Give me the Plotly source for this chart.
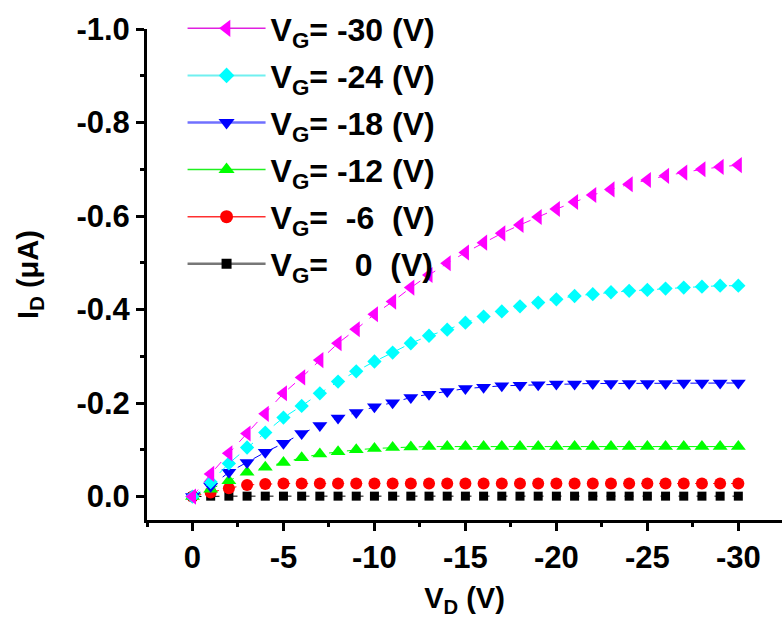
import plotly.graph_objects as go

VD = [0, -1, -2, -3, -4, -5, -6, -7, -8, -9, -10, -11, -12, -13, -14, -15,
      -16, -17, -18, -19, -20, -21, -22, -23, -24, -25, -26, -27, -28, -29, -30]

I_vg0 = [0, -0.001, -0.001, -0.001, -0.001, -0.001, -0.001, -0.001, -0.001, -0.001, -0.001,
         -0.001, -0.001, -0.001, -0.001, -0.001, -0.001, -0.001, -0.001, -0.001, -0.001,
         -0.001, -0.001, -0.001, -0.001, -0.001, -0.001, -0.001, -0.001, -0.001, -0.001]
I_vg6 = [0, -0.009, -0.018, -0.025, -0.027, -0.028, -0.028, -0.028, -0.028, -0.028, -0.028,
         -0.028, -0.028, -0.028, -0.028, -0.028, -0.028, -0.028, -0.028, -0.028, -0.028,
         -0.028, -0.028, -0.028, -0.028, -0.028, -0.028, -0.028, -0.028, -0.028, -0.028]
I_vg12 = [0, -0.016, -0.034, -0.052, -0.063, -0.073, -0.083, -0.091, -0.096, -0.100, -0.103,
          -0.105, -0.106, -0.107, -0.107, -0.107, -0.107, -0.107, -0.107, -0.107, -0.107,
          -0.107, -0.107, -0.107, -0.107, -0.107, -0.107, -0.107, -0.107, -0.107, -0.107]
I_vg18 = [0, -0.022, -0.052, -0.073, -0.095, -0.114, -0.135, -0.152, -0.168, -0.180, -0.192,
          -0.201, -0.212, -0.219, -0.225, -0.231, -0.234, -0.237, -0.238, -0.239, -0.241,
          -0.241, -0.242, -0.242, -0.242, -0.242, -0.242, -0.243, -0.243, -0.243, -0.243]
I_vg24 = [0, -0.031, -0.071, -0.105, -0.137, -0.169, -0.194, -0.221, -0.246, -0.268, -0.289,
          -0.308, -0.328, -0.344, -0.357, -0.372, -0.385, -0.396, -0.407, -0.415, -0.422,
          -0.429, -0.433, -0.437, -0.440, -0.442, -0.445, -0.447, -0.449, -0.451, -0.451]
I_vg30 = [0, -0.0485, -0.0925, -0.135, -0.177, -0.221, -0.255, -0.292, -0.328, -0.358, -0.390,
          -0.417, -0.447, -0.474, -0.499, -0.522, -0.543, -0.563, -0.581, -0.598, -0.615,
          -0.630, -0.645, -0.657, -0.668, -0.677, -0.686, -0.693, -0.700, -0.705, -0.709]

labels = ["V<sub>G</sub>=   0  (V)", "V<sub>G</sub>=  -6  (V)", "V<sub>G</sub>= -12 (V)",
          "V<sub>G</sub>= -18 (V)", "V<sub>G</sub>= -24 (V)", "V<sub>G</sub>= -30 (V)"]
series = [I_vg0, I_vg6, I_vg12, I_vg18, I_vg24, I_vg30]
colors = ["#000000", "#ff0000", "#00ff00", "#0000ff", "#00ffff", "#ff00ff"]
legend_line_colors = ["#777777", "#ff3030", "#20f020", "#7070ff", "#70f0f0", "#e020e0"]
legend_line_widths = [2.5, 1.5, 1.5, 2.5, 2, 1.5]
symbols = ["square", "circle", "triangle-up", "triangle-down", "diamond", "triangle-left"]
msizes = [9, 12, 13, 13, 11, 14]

fig = go.Figure()
# data traces (drawn black first, magenta on top)
for lab, ys, c, s, ms in zip(labels, series, colors, symbols, msizes):
    fig.add_trace(go.Scatter(
        x=VD, y=ys, name=lab, mode="lines+markers", showlegend=False,
        line=dict(color=c, width=1, dash="dash"),
        marker=dict(symbol=s, size=ms, color=c, line=dict(width=0)),
    ))
# legend entries (solid sample lines, top-to-bottom -30 ... 0)
for k in range(len(labels) - 1, -1, -1):
    fig.add_trace(go.Scatter(
        x=[None], y=[None], name=labels[k], mode="lines+markers",
        legendgroup=f"g{k}", showlegend=True,
        line=dict(color=legend_line_colors[k], width=legend_line_widths[k]),
        marker=dict(symbol=symbols[k], size=msizes[k] + 1, color=colors[k], line=dict(width=0)),
    ))

font_main = dict(family="Liberation Sans", size=31, color="black", weight="bold")
font_title = dict(family="Liberation Sans", size=29, color="black", weight="bold")

fig.update_layout(
    template="none",
    width=782, height=626,
    margin=dict(l=147, r=0, t=29, b=106, autoexpand=False),
    plot_bgcolor="white", paper_bgcolor="white",
    font=font_main,
    showlegend=True,
    legend=dict(
        x=0.056, y=1.057, xanchor="left", yanchor="top",
        traceorder="grouped", bgcolor="rgba(0,0,0,0)",
        font=dict(family="Liberation Sans", size=32, color="black", weight="bold"),
        itemwidth=78, tracegroupgap=2.5,
    ),
    xaxis=dict(
        automargin=False,
        range=[2.5, -32.4], tickvals=[0, -5, -10, -15, -20, -25, -30],
        ticktext=["0", "-5", "-10", "-15", "-20", "-25", "-30"],
        showline=True, linecolor="black", linewidth=3, mirror=False,
        ticks="outside", ticklen=8, tickwidth=3, tickcolor="black",
        minor=dict(tickvals=[2.5, -2.5, -7.5, -12.5, -17.5, -22.5, -27.5, -32.5],
                   ticks="outside", ticklen=4, tickwidth=3, tickcolor="black"),
        showgrid=False, zeroline=False,
        tickfont=font_main,
        title=dict(text="V<sub>D</sub> (V)", font=font_title, standoff=14),
    ),
    yaxis=dict(
        automargin=False,
        range=[0.05, -1.0], tickvals=[0, -0.2, -0.4, -0.6, -0.8, -1.0],
        ticktext=["0.0", "-0.2", "-0.4", "-0.6", "-0.8", "-1.0"],
        showline=True, linecolor="black", linewidth=3, mirror=False,
        ticks="outside", ticklen=8, tickwidth=3, tickcolor="black",
        minor=dict(tickvals=[-0.1, -0.3, -0.5, -0.7, -0.9],
                   ticks="outside", ticklen=4, tickwidth=3, tickcolor="black"),
        showgrid=False, zeroline=False,
        tickfont=font_main,
        title=dict(text="I<sub>D</sub> (μA)", font=font_title, standoff=30),
    ),
)

fig.write_html("out.html", config={"displayModeBar": False},
               post_script="document.body.style.margin='0';")
